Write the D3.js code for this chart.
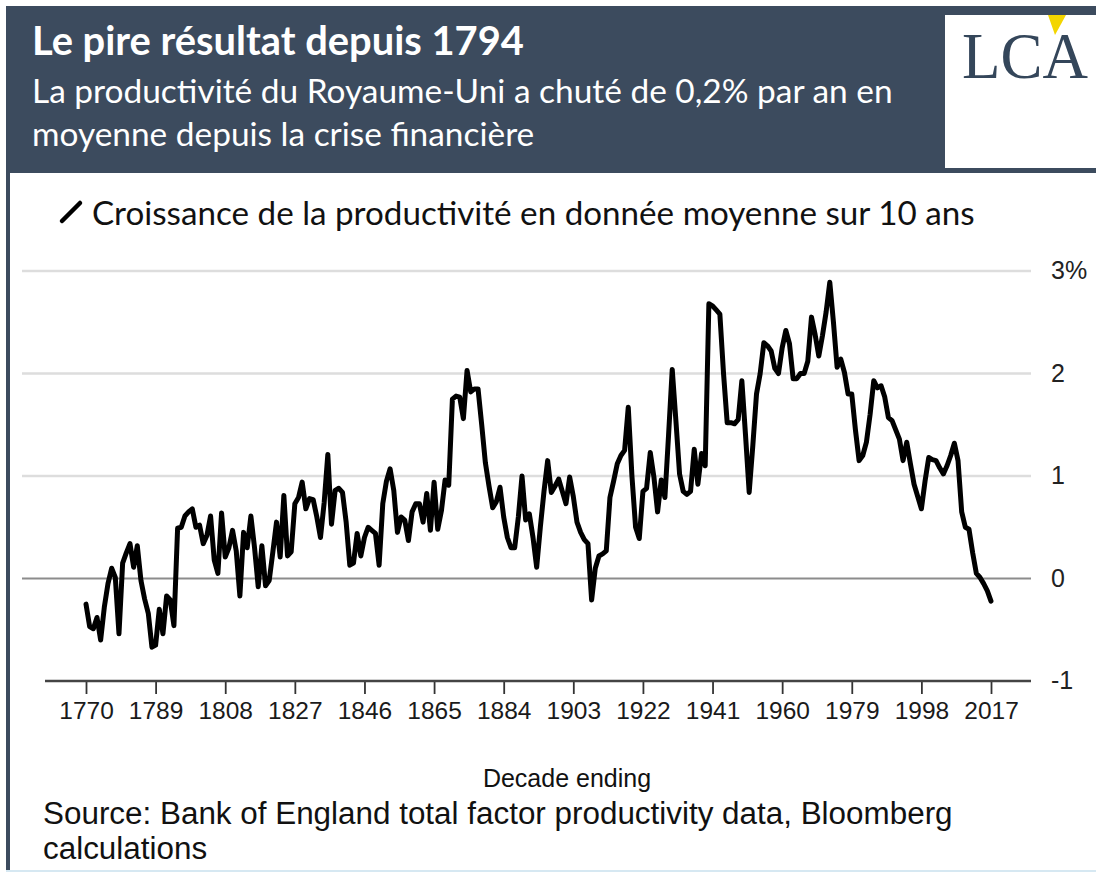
<!DOCTYPE html>
<html>
<head>
<meta charset="utf-8">
<script src="https://cdn.jsdelivr.net/npm/d3@7"></script>
<style>
body { margin: 0; background: #fff; }
svg { display: block; }
</style>
</head>
<body>
<svg id="chart" width="1096" height="875"></svg>
<script>
// decade-ending year and 10y average productivity growth (%)
var years = [
 1770,1771,1772,1773,1774,1775,1776,1777,1778,1779,1780,1781,1782,1783,1784,1785,1786,1787,1788,1789,
 1790,1791,1792,1793,1794,1795,1796,1797,1798,1799,1800,1801,1802,1803,1804,1805,1806,1807,1808,1809,
 1810,1811,1812,1813,1814,1815,1816,1817,1818,1819,1820,1821,1822,1823,1824,1825,1826,1827,1828,1829,
 1830,1831,1832,1833,1834,1835,1836,1837,1838,1839,1840,1841,1842,1843,1844,1845,1846,1847,1848,1849,
 1850,1851,1852,1853,1854,1855,1856,1857,1858,1859,1860,1861,1862,1863,1864,1865,1866,1867,1868,1869,
 1870,1871,1872,1873,1874,1875,1876,1877,1878,1879,1880,1881,1882,1883,1884,1885,1886,1887,1888,1889,
 1890,1891,1892,1893,1894,1895,1896,1897,1898,1899,1900,1901,1902,1903,1904,1905,1906,1907,1908,1909,
 1910,1911,1912,1913,1914,1915,1916,1917,1918,1919,1920,1921,1922,1923,1924,1925,1926,1927,1928,1929,
 1930,1931,1932,1933,1934,1935,1936,1937,1938,1939,1940,1941,1942,1943,1944,1945,1946,1947,1948,1949,
 1950,1951,1952,1953,1954,1955,1956,1957,1958,1959,1960,1961,1962,1963,1964,1965,1966,1967,1968,1969,
 1970,1971,1972,1973,1974,1975,1976,1977,1978,1979,1980,1981,1982,1983,1984,1985,1986,1987,1988,1989,
 1990,1991,1992,1993,1994,1995,1996,1997,1998,1999,2000,2001,2002,2003,2004,2005,2006,2007,2008,2009,
 2010,2011,2012,2013,2014,2015,2016,2017
];
var growth = [
 -0.25,-0.47,-0.49,-0.38,-0.60,-0.28,-0.05,0.10,0.01,-0.54,0.15,0.25,0.34,0.11,0.32,-0.02,-0.20,-0.34,-0.67,-0.65,
 -0.30,-0.54,-0.17,-0.21,-0.46,0.49,0.50,0.61,0.65,0.68,0.50,0.52,0.34,0.42,0.61,0.18,0.05,0.64,0.21,0.30,
 0.47,0.27,-0.17,0.45,0.30,0.61,0.30,-0.08,0.32,-0.07,-0.02,0.26,0.55,0.21,0.81,0.22,0.26,0.73,0.79,0.94,
 0.68,0.78,0.77,0.60,0.40,0.74,1.21,0.53,0.86,0.88,0.84,0.55,0.13,0.15,0.44,0.22,0.40,0.50,0.47,0.44,
 0.13,0.73,0.95,1.07,0.86,0.45,0.60,0.57,0.37,0.65,0.73,0.73,0.55,0.83,0.47,0.94,0.48,0.66,0.96,0.91,
 1.75,1.78,1.77,1.56,2.03,1.82,1.85,1.85,1.50,1.13,0.90,0.69,0.75,0.89,0.60,0.40,0.30,0.30,0.60,1.00,
 0.57,0.63,0.40,0.11,0.50,0.85,1.15,0.84,0.90,0.97,0.85,0.73,0.99,0.80,0.55,0.45,0.38,0.34,-0.21,0.10,
 0.22,0.24,0.27,0.79,0.95,1.12,1.20,1.25,1.67,1.00,0.50,0.39,0.85,0.88,1.23,0.99,0.65,0.96,0.79,1.40,
 2.04,1.54,1.02,0.85,0.82,0.85,1.26,0.92,1.22,1.10,2.68,2.66,2.62,2.58,2.00,1.52,1.52,1.51,1.55,1.93,
 1.40,0.84,1.30,1.80,2.00,2.30,2.27,2.22,2.05,2.00,2.25,2.42,2.29,1.95,1.95,2.00,2.00,2.12,2.55,2.38,
 2.17,2.37,2.60,2.89,2.50,2.06,2.14,2.01,1.80,1.80,1.45,1.15,1.20,1.33,1.60,1.93,1.86,1.88,1.77,1.57,
 1.54,1.45,1.36,1.15,1.33,1.12,0.92,0.80,0.68,0.95,1.18,1.16,1.15,1.08,1.02,1.10,1.20,1.32,1.15,0.65,
 0.50,0.48,0.25,0.05,0.01,-0.05,-0.12,-0.22
];
var xTicks = [1770,1789,1808,1827,1846,1865,1884,1903,1922,1941,1960,1979,1998,2017];
var yTicks = [-1,0,1,2,3];
var yTickLabels = ["-1","0","1","2","3%"];

var title = "Le pire résultat depuis 1794";
var subtitle = ["La productivité du Royaume-Uni a chuté de 0,2% par an en",
                "moyenne depuis la crise financière"];
var legendText = "Croissance de la productivité en donnée moyenne sur 10 ans";
var xTitle = "Decade ending";
var source = ["Source: Bank of England total factor productivity data, Bloomberg",
              "calculations"];

var dataset = years.map(function(y, i) { return {Year: y, Change: growth[i]}; });

var svg = d3.select("#chart");
var slate = "#3c4b5e";

var xScale = d3.scaleLinear()
    .domain([1770, 2017])
    .range([86, 991]);

var yScale = d3.scaleLinear()
    .domain([-1, 3])
    .range([681, 271]);

// shrink/grow a text so it spans a given width
var fitWidth = function(sel, w) {
    var len = sel.node().getComputedTextLength();
    var fs = parseFloat(sel.attr("font-size"));
    var nfs = fs * w / len;
    sel.attr("font-size", nfs);
    return nfs;
};

var drawFrame = function() {
    svg.append("rect")
        .attr("x", 6).attr("y", 6)
        .attr("width", 1090).attr("height", 167)
        .attr("fill", slate);
    svg.append("rect")
        .attr("x", 6).attr("y", 173)
        .attr("width", 4).attr("height", 699)
        .attr("fill", slate);
    svg.append("rect")
        .attr("x", 6).attr("y", 870)
        .attr("width", 1090).attr("height", 2)
        .attr("fill", "#d6e8f2");

    // logo
    var logo = svg.append("g");
    logo.append("rect")
        .attr("x", 945).attr("y", 15)
        .attr("width", 151).attr("height", 153)
        .attr("fill", "#fff");
    logo.append("text")
        .text("LCA")
        .attr("x", 962).attr("y", 78)
        .attr("font-family", "Liberation Serif, serif")
        .attr("font-size", 66)
        .attr("textLength", 126)
        .attr("lengthAdjust", "spacingAndGlyphs")
        .attr("fill", "#34465a");
    logo.append("path")
        .attr("d", "M1048,15L1066,15L1055,35Z")
        .attr("fill", "#f3d500");
};

var createLabels = function() {
    var labels = svg.append("g").classed("labels", true);

    var t = labels.append("text")
        .text(title)
        .attr("x", 32).attr("y", 55)
        .attr("font-family", "Lato, sans-serif")
        .attr("font-weight", "bold")
        .attr("font-size", 30)
        .attr("fill", "#fff");
    fitWidth(t, 492);

    var s1 = labels.append("text")
        .text(subtitle[0])
        .attr("x", 32).attr("y", 103)
        .attr("font-family", "Lato, sans-serif")
        .attr("font-size", 28)
        .attr("fill", "#fff");
    var fs = fitWidth(s1, 861);
    labels.append("text")
        .text(subtitle[1])
        .attr("x", 32).attr("y", 146)
        .attr("font-family", "Lato, sans-serif")
        .attr("font-size", fs)
        .attr("fill", "#fff");

    // legend
    labels.append("line")
        .attr("x1", 62).attr("y1", 221)
        .attr("x2", 80).attr("y2", 203)
        .attr("stroke", "#000")
        .attr("stroke-width", 4.5)
        .attr("stroke-linecap", "round");
    var lg = labels.append("text")
        .text(legendText)
        .attr("x", 92).attr("y", 225)
        .attr("font-family", "Lato, sans-serif")
        .attr("font-size", 30)
        .attr("fill", "#111");
    fitWidth(lg, 883);

    labels.append("text")
        .text(xTitle)
        .attr("x", 567).attr("y", 787)
        .attr("text-anchor", "middle")
        .attr("font-family", "Liberation Sans, Arial, sans-serif")
        .attr("font-size", 25)
        .attr("fill", "#111");

    var src = labels.append("text")
        .text(source[0])
        .attr("x", 43).attr("y", 824)
        .attr("font-family", "Liberation Sans, Arial, sans-serif")
        .attr("font-size", 26)
        .attr("fill", "#111");
    var sfs = fitWidth(src, 910);
    labels.append("text")
        .text(source[1])
        .attr("x", 43).attr("y", 859)
        .attr("font-family", "Liberation Sans, Arial, sans-serif")
        .attr("font-size", sfs)
        .attr("fill", "#111");
};

var drawAxes = function() {
    var axes = svg.append("g");

    // horizontal grid
    axes.selectAll("line.grid")
        .data(yTicks.filter(function(d) { return d > -1; }))
        .enter()
        .append("line")
        .attr("class", "grid")
        .attr("x1", 22).attr("x2", 1031)
        .attr("y1", function(d) { return yScale(d); })
        .attr("y2", function(d) { return yScale(d); })
        .attr("stroke", function(d) { return d === 0 ? "#8c8c8c" : "#dddddd"; })
        .attr("stroke-width", function(d) { return d === 0 ? 2.2 : 2.5; });

    var yAxis = d3.axisRight(yScale)
        .tickValues(yTicks)
        .tickSize(0)
        .tickPadding(0)
        .tickFormat(function(d, i) { return yTickLabels[i]; });
    var ya = axes.append("g")
        .attr("transform", "translate(1051,0)")
        .call(yAxis);
    ya.select(".domain").remove();
    ya.selectAll("text")
        .attr("font-family", "Liberation Sans, Arial, sans-serif")
        .attr("font-size", 25)
        .attr("fill", "#222")
        .attr("dy", "0.3em");

    var xAxis = d3.axisBottom(xScale)
        .tickValues(xTicks)
        .tickSize(13)
        .tickPadding(8)
        .tickFormat(d3.format("d"));
    var xa = axes.append("g")
        .attr("transform", "translate(0," + yScale(-1) + ")")
        .call(xAxis);
    xa.select(".domain").remove();
    xa.selectAll(".tick line")
        .attr("stroke", "#333")
        .attr("stroke-width", 1.8);
    xa.selectAll("text")
        .attr("font-family", "Liberation Sans, Arial, sans-serif")
        .attr("font-size", 24.5)
        .attr("fill", "#1a1a1a");
    axes.append("line")
        .attr("x1", 45).attr("x2", 1031)
        .attr("y1", yScale(-1)).attr("y2", yScale(-1))
        .attr("stroke", "#444")
        .attr("stroke-width", 2.6);
};

var drawLine = function(data) {
    var line = d3.line()
        .x(function(d) { return xScale(d.Year); })
        .y(function(d) { return yScale(d.Change); });
    svg.append("path")
        .datum(data)
        .attr("class", "line")
        .attr("d", line)
        .attr("fill", "none")
        .attr("stroke", "#000")
        .attr("stroke-width", 5)
        .attr("stroke-linejoin", "round")
        .attr("stroke-linecap", "round");
};

drawFrame();
drawAxes();
drawLine(dataset);
createLabels();
</script>
</body>
</html>
